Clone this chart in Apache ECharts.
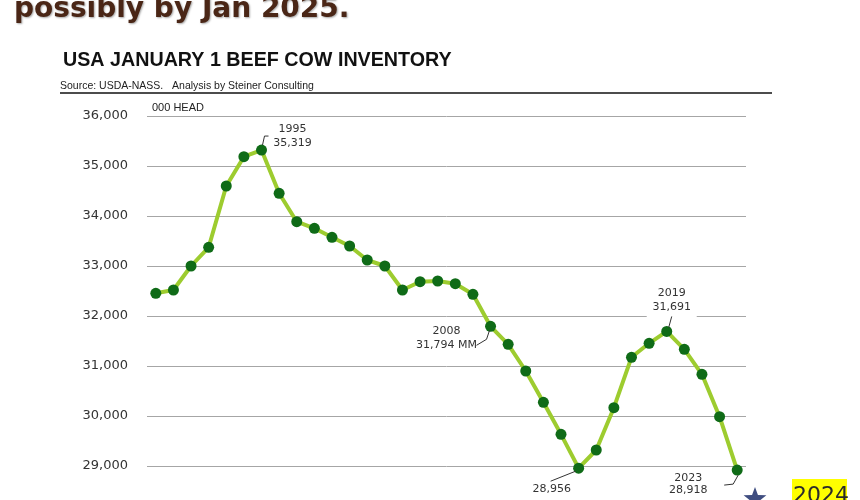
<!DOCTYPE html>
<html>
<head>
<meta charset="utf-8">
<script src="https://cdn.jsdelivr.net/npm/echarts@6/dist/echarts.min.js"></script>
<style>
html,body{margin:0;padding:0;background:#fff;}
#chart{width:860px;height:500px;}
</style>
</head>
<body>
<div id="chart"></div>
<script>
// ---- data ----
const years = [1990,1991,1992,1993,1994,1995,1996,1997,1998,1999,2000,2001,2002,2003,2004,2005,2006,2007,2008,2009,2010,2011,2012,2013,2014,2015,2016,2017,2018,2019,2020,2021,2022,2023];
const beefCows = [32454,32520,33000,33374,34600,35186,35319,34454,33886,33754,33574,33400,33120,33000,32520,32686,32700,32646,32434,31794,31434,30900,30274,29634,28956,29320,30166,31174,31454,31691,31334,30834,29986,28918];
const yTicks = [28000,29000,30000,31000,32000,33000,34000,35000,36000];
const annotations = [
  {idx:6,  lines:['1995','35,319']},
  {idx:19, lines:['2008','31,794 MM']},
  {idx:24, lines:['28,956']},
  {idx:29, lines:['2019','31,691']},
  {idx:33, lines:['2023','28,918']}
];
// label placement relative to the point (pixels)
const annoLayout = [
  {dx:31, dy:[-21,-7], leader:[[1,-5],[3,-14],[7,-14]]},
  {dx:-44, dy:[5,18.5], leader:[[-14,19],[-4,13],[-1,4]]},
  {dx:-27, dy:[21], leader:[[-28,13],[-3,3]]},
  {dx:5, dy:[-38,-24], leader:[[5,-15],[2,-4]], bg:true},
  {dx:-49, dy:[8,20], leader:[[-13,15],[-4,14],[1,5]]}
];

const chart = echarts.init(document.getElementById('chart'), null, {renderer:'canvas'});
const fmt = v => v.toLocaleString('en-US');

chart.setOption({
  animation:false,
  backgroundColor:'#ffffff',
  grid:{left:147, right:114, top:116, height:400, containLabel:false, outerBoundsMode:'none'},
  xAxis:{
    type:'category', data:years, boundaryGap:true,
    axisLine:{show:false}, axisTick:{show:false}, axisLabel:{show:false}, splitLine:{show:false}
  },
  yAxis:{
    type:'value', min:yTicks[0], max:yTicks[yTicks.length-1], interval:1000,
    axisLine:{show:false}, axisTick:{show:false},
    axisLabel:{formatter:v=>fmt(v), color:'#333', fontFamily:'DejaVu Sans', fontSize:13, margin:19},
    splitLine:{lineStyle:{color:'#a6a6a6', width:1}}
  },
  series:[{
    type:'line', data:beefCows,
    lineStyle:{color:'#9dcc2f', width:4},
    itemStyle:{color:'#0f6b17'},
    symbol:'circle', symbolSize:11, showSymbol:true,
    z:3
  }]
});

function star(cx, cy, R, r){
  const pts=[];
  for(let k=0;k<10;k++){
    const ang = -Math.PI/2 + k*Math.PI/5;
    const rad = k%2===0 ? R : r;
    pts.push([cx+rad*Math.cos(ang), cy+rad*Math.sin(ang)]);
  }
  return pts;
}

const graphics = [
  {type:'text', x:14, y:10, z:10, style:{text:'possibly by Jan 2025.', fill:'#4a2616', font:'bold 28px "DejaVu Sans"', verticalAlign:'middle', textShadowColor:'rgba(0,0,0,0.35)', textShadowBlur:2, textShadowOffsetX:1, textShadowOffsetY:1}},
  {type:'text', x:63, y:61, z:10, style:{text:'USA JANUARY 1 BEEF COW INVENTORY', fill:'#111', font:'bold 19.7px "Liberation Sans"', verticalAlign:'middle'}},
  {type:'text', x:60, y:86, z:10, style:{text:'Source: USDA-NASS.   Analysis by Steiner Consulting', fill:'#222', font:'10.5px "Liberation Sans"', verticalAlign:'middle'}},
  {type:'line', z:10, shape:{x1:60, y1:93, x2:772, y2:93}, style:{stroke:'#111', lineWidth:1.5}},
  {type:'text', x:152, y:108, z:10, style:{text:'000 HEAD', fill:'#222', font:'11px "Liberation Sans"', verticalAlign:'middle'}},
  {type:'rect', z:10, shape:{x:792, y:479, width:55, height:30}, style:{fill:'#ffff00'}},
  {type:'text', x:793, y:496, z:11, style:{text:'2024', fill:'#2b2b2b', font:'22px "DejaVu Sans"', verticalAlign:'middle'}},
  {type:'polygon', z:10, shape:{points:star(755, 499, 12, 5)}, style:{fill:'#3f4d80'}}
];

annotations.forEach((a,i)=>{
  const L = annoLayout[i];
  const p = chart.convertToPixel({xAxisIndex:0, yAxisIndex:0}, [a.idx, beefCows[a.idx]]);
  if (L.bg) {
    graphics.push({type:'rect', z:12, shape:{x:p[0]+L.dx-25, y:p[1]+L.dy[0]-9, width:50, height:36}, style:{fill:'#fff'}});
  }
  a.lines.forEach((t,j)=>{
    graphics.push({type:'text', z:13, x:p[0]+L.dx, y:p[1]+L.dy[j], style:{text:t, fill:'#333', font:'11px "DejaVu Sans"', align:'center', verticalAlign:'middle'}});
  });
  graphics.push({type:'polyline', z:13, shape:{points:L.leader.map(o=>[p[0]+o[0], p[1]+o[1]])}, style:{stroke:'#333', lineWidth:1, fill:null}});
});

chart.setOption({graphic:graphics});
</script>
</body>
</html>
